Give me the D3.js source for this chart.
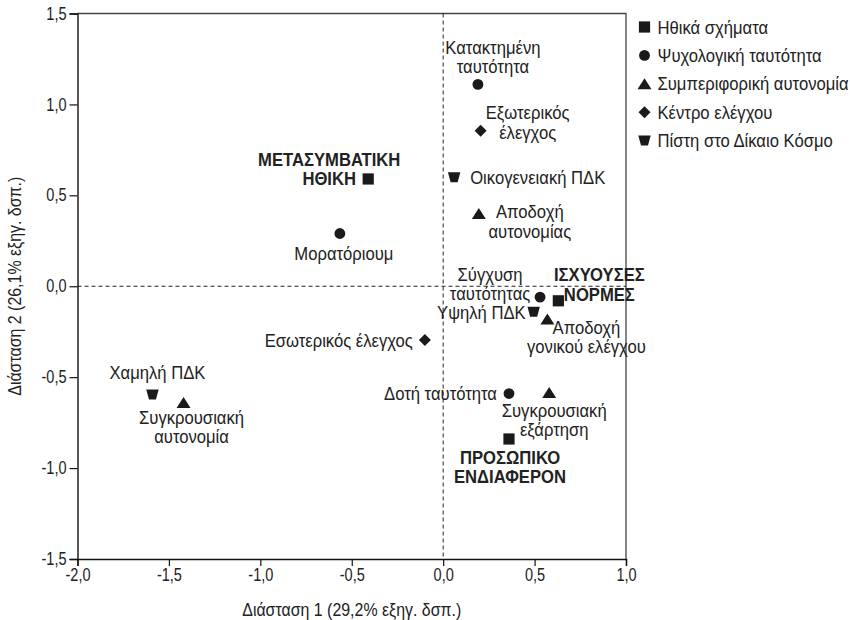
<!DOCTYPE html>
<html>
<head>
<meta charset="utf-8">
<script src="https://cdn.jsdelivr.net/npm/d3@7/dist/d3.min.js"></script>
<style>
  html, body { margin: 0; padding: 0; background: #fff; }
  svg { display: block; }
</style>
</head>
<body>
<svg id="chart" width="850" height="620"></svg>
<script>
// ---------------- DATA ----------------
const categories = ["Ηθικά σχήματα", "Ψυχολογική ταυτότητα", "Συμπεριφορική αυτονομία", "Κέντρο ελέγχου", "Πίστη στο Δίκαιο Κόσμο"];
const pointLabels = [
  ["ΜΕΤΑΣΥΜΒΑΤΙΚΗ", "ΗΘΙΚΗ"],
  ["ΙΣΧΥΟΥΣΕΣ", "ΝΟΡΜΕΣ"],
  ["ΠΡΟΣΩΠΙΚΟ", "ΕΝΔΙΑΦΕΡΟΝ"],
  ["Κατακτημένη", "ταυτότητα"],
  ["Μορατόριουμ"],
  ["Σύγχυση", "ταυτότητας"],
  ["Δοτή ταυτότητα"],
  ["Αποδοχή", "αυτονομίας"],
  ["Αποδοχή", "γονικού ελέγχου"],
  ["Συγκρουσιακή", "εξάρτηση"],
  ["Συγκρουσιακή", "αυτονομία"],
  ["Εξωτερικός", "έλεγχος"],
  ["Εσωτερικός έλεγχος"],
  ["Οικογενειακή ΠΔΚ"],
  ["Υψηλή ΠΔΚ"],
  ["Χαμηλή ΠΔΚ"]
];
const pointCategory = [0, 0, 0, 1, 1, 1, 1, 2, 2, 2, 2, 3, 3, 4, 4, 4];
const dim1 = [-0.41, 0.63, 0.36, 0.19, -0.565, 0.53, 0.36, 0.195, 0.57, 0.58, -1.42, 0.205, -0.10, 0.06, 0.495, -1.59];
const dim2 = [0.59, -0.08, -0.84, 1.11, 0.29, -0.06, -0.59, 0.40, -0.18, -0.585, -0.64, 0.855, -0.295, 0.60, -0.14, -0.595];
const xTicks = [-2.0, -1.5, -1.0, -0.5, 0.0, 0.5, 1.0];
const yTicks = [-1.5, -1.0, -0.5, 0.0, 0.5, 1.0, 1.5];
const xTitle = "Διάσταση 1 (29,2% εξηγ. δσπ.)";
const yTitle = "Διάσταση 2 (26,1% εξηγ. δσπ.)";

// ---------------- LAYOUT (label placement, px) ----------------
const labelLayout = [
  { anchor: "middle", dx: -39, dy: [-20, -1] },
  { anchor: "middle", dx: 41, dy: [-26, -6] },
  { anchor: "middle", dx: 1, dy: [18, 37] },
  { anchor: "middle", dx: 15, dy: [-37, -18] },
  { anchor: "middle", dx: 4, dy: [20] },
  { anchor: "middle", dx: -50, dy: [-23, -4] },
  { anchor: "end", dx: -12, dy: [0] },
  { anchor: "middle", dx: 51, dy: [-2, 18] },
  { anchor: "middle", dx: 39, dy: [8, 27] },
  { anchor: "middle", dx: 5, dy: [18, 37] },
  { anchor: "middle", dx: 8, dy: [15, 34] },
  { anchor: "middle", dx: 47, dy: [-18, 2] },
  { anchor: "end", dx: -12, dy: [0] },
  { anchor: "start", dx: 16, dy: [0] },
  { anchor: "end", dx: -8, dy: [1] },
  { anchor: "middle", dx: 5, dy: [-22] }
];

// ---------------- STYLE ----------------
const FONT = "'Liberation Sans', Arial, Helvetica, sans-serif";
const TEXT_SX = 0.9;   // condensed look of the original typeface
const TICK_SX = 0.83;
const INK = "#222";

// ---------------- CHART ----------------
const svg = d3.select("#chart").style("font-family", FONT);
const plot = { left: 77.5, right: 626, top: 13.5, bottom: 559 };
const x = d3.scaleLinear().domain([-2, 1]).range([plot.left, plot.right]);
const y = d3.scaleLinear().domain([-1.5, 1.5]).range([plot.bottom, plot.top]);
const fmt = d => d3.format(".1f")(d).replace(".", ",").replace("−", "-");

function addText(parent, tx, ty, str, opts) {
  const o = Object.assign({ size: 18.5, anchor: "start", weight: "normal", sx: TEXT_SX, rotate: 0, dy: "0.36em" }, opts || {});
  return parent.append("text")
    .attr("transform", `translate(${tx},${ty})${o.rotate ? ` rotate(${o.rotate})` : ""} scale(${o.sx},1)`)
    .attr("text-anchor", o.anchor)
    .attr("dy", o.dy)
    .attr("fill", INK)
    .style("font-size", o.size + "px")
    .style("font-weight", o.weight)
    .text(str);
}

// frame (top & right)
svg.append("path")
  .attr("d", `M${x(-2)},${y(1.5)}H${x(1)}V${y(-1.5)}`)
  .attr("fill", "none").attr("stroke", "#444").attr("stroke-width", 1.3);

// reference dashed lines
svg.append("line")
  .attr("x1", x(0)).attr("x2", x(0)).attr("y1", y(1.5)).attr("y2", y(-1.5))
  .attr("stroke", "#222").attr("stroke-width", 1).attr("stroke-dasharray", "4,3");
svg.append("line")
  .attr("x1", x(-2)).attr("x2", x(1)).attr("y1", y(0)).attr("y2", y(0))
  .attr("stroke", "#222").attr("stroke-width", 1).attr("stroke-dasharray", "4,3");

// axes
const XT = 7, YT = 8, PAD = 3;
const xAxis = svg.append("g")
  .attr("transform", `translate(0,${plot.bottom})`)
  .call(d3.axisBottom(x).tickValues(xTicks).tickFormat(fmt).tickSize(XT).tickPadding(PAD));
const yAxis = svg.append("g")
  .attr("transform", `translate(${plot.left},0)`)
  .call(d3.axisLeft(y).tickValues(yTicks).tickFormat(fmt).tickSize(YT).tickPadding(PAD));
[xAxis, yAxis].forEach(a => {
  a.select(".domain").attr("stroke", "#111").attr("stroke-width", 1.4);
  a.selectAll(".tick line").attr("stroke", "#111").attr("stroke-width", 1.2);
  a.selectAll(".tick text")
    .attr("fill", INK)
    .style("font-size", "17.5px")
    .style("font-family", FONT)
    .attr("transform", `scale(${TICK_SX},1)`);
});
yAxis.selectAll(".tick text").attr("x", -(YT + PAD) / TICK_SX);

// axis titles
addText(svg, (plot.left + plot.right) / 2, 610, xTitle, { size: 17.7, anchor: "middle" });
addText(svg, 15, (plot.top + plot.bottom) / 2, yTitle, { size: 17.7, anchor: "middle", rotate: -90 });

// symbols
function drawSymbol(g, cat, cx, cy) {
  const c = "#1a1a1a";
  if (cat === 0) {
    g.append("rect").attr("x", cx - 5.6).attr("y", cy - 5.6).attr("width", 11.2).attr("height", 11.2).attr("fill", c);
  } else if (cat === 1) {
    g.append("circle").attr("cx", cx).attr("cy", cy).attr("r", 5.4).attr("fill", c);
  } else if (cat === 2) {
    g.append("path").attr("d", `M${cx},${cy - 5.5}L${cx + 7},${cy + 5.5}L${cx - 7},${cy + 5.5}Z`).attr("fill", c);
  } else if (cat === 3) {
    g.append("path").attr("d", `M${cx},${cy - 6}L${cx + 6},${cy}L${cx},${cy + 6}L${cx - 6},${cy}Z`).attr("fill", c);
  } else {
    g.append("path").attr("d", `M${cx - 6.2},${cy - 5}L${cx + 6.2},${cy - 5}L${cx + 3.5},${cy + 5}L${cx - 3.5},${cy + 5}Z`).attr("fill", c);
  }
}

const marks = svg.append("g");
dim1.forEach((v, i) => drawSymbol(marks, pointCategory[i], x(v), y(dim2[i])));

// point labels
const labels = svg.append("g");
dim1.forEach((v, i) => {
  const L = labelLayout[i];
  const bold = pointCategory[i] === 0;
  pointLabels[i].forEach((line, j) => {
    addText(labels, x(v) + L.dx, y(dim2[i]) + L.dy[j], line, {
      size: 18.5, anchor: L.anchor, weight: bold ? "bold" : "normal"
    });
  });
});

// legend
const legend = svg.append("g");
categories.forEach((name, i) => {
  const ly = 27 + i * 28.4;
  drawSymbol(legend, i, 644.5, ly);
  addText(legend, 657.5, ly, name, { size: 18.5 });
});
</script>
</body>
</html>
